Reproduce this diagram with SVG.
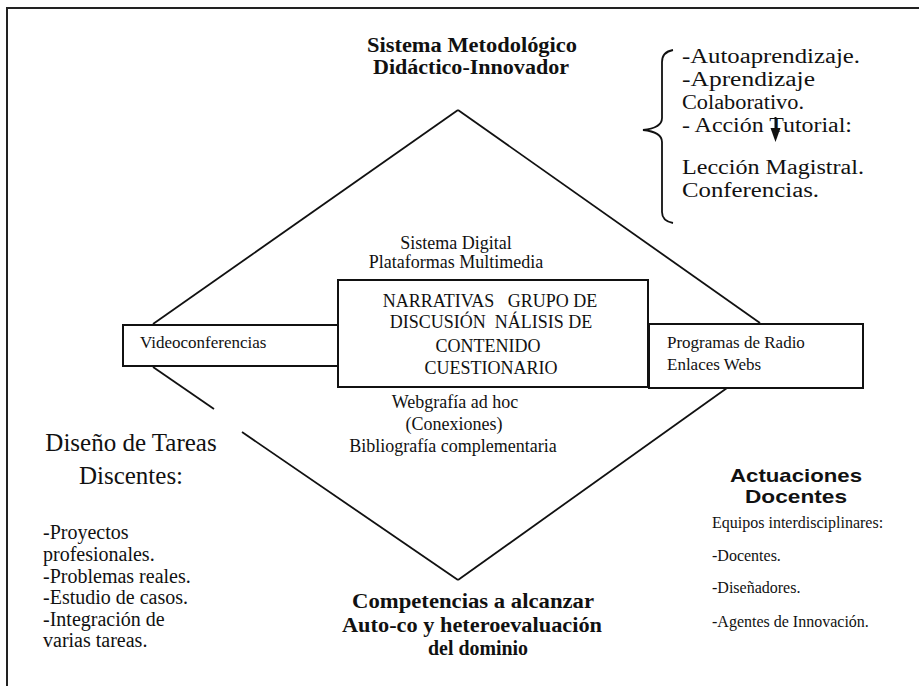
<svg xmlns="http://www.w3.org/2000/svg" width="919" height="686" viewBox="0 0 919 686">
<style>
.serif{font-family:"Liberation Serif","Times New Roman",serif;fill:#111}
.b{font-weight:bold}
.sans{font-family:"Liberation Sans",Arial,sans-serif;font-weight:bold;fill:#111}
.mid{text-anchor:middle}
.ln{stroke:#111;stroke-width:1.8;fill:none}
.box{stroke:#111;stroke-width:2;fill:#fff}
</style>
<rect x="0" y="0" width="919" height="686" fill="#fff"/>
<g id="frame">
<path d="M7,686 L7,8 L919,8" stroke="#222" stroke-width="2" fill="none"/>
</g>
<g id="connectors">
<line class="ln" x1="458" y1="110" x2="153" y2="324"/>
<line class="ln" x1="458" y1="110" x2="760" y2="323"/>
<line class="ln" x1="153" y1="367" x2="214" y2="409"/>
<line class="ln" x1="242" y1="432" x2="458" y2="580"/>
<line class="ln" x1="727" y1="388" x2="458" y2="580"/>
</g>
<g id="title-top">
<text class="serif b mid" x="472" y="52" font-size="20" textLength="210" lengthAdjust="spacingAndGlyphs">Sistema Metodológico</text>
<text class="serif b mid" x="471" y="74" font-size="20" textLength="196" lengthAdjust="spacingAndGlyphs">Didáctico-Innovador</text>
</g>
<g id="brace-list">
<path class="ln" d="M673,50 Q662,52 662,62 L662,118 Q662,128 643,130 Q662,132 662,142 L662,212 Q662,221 673,223"/>
<text class="serif" x="682" y="63" font-size="20" textLength="178" lengthAdjust="spacingAndGlyphs">-Autoaprendizaje.</text>
<text class="serif" x="682" y="86" font-size="20" textLength="133" lengthAdjust="spacingAndGlyphs">-Aprendizaje</text>
<text class="serif" x="682" y="109" font-size="20" textLength="122" lengthAdjust="spacingAndGlyphs">Colaborativo.</text>
<text class="serif" x="682" y="132" font-size="20" textLength="170" lengthAdjust="spacingAndGlyphs">- Acción Tutorial:</text>
<line x1="775.5" y1="117" x2="775.5" y2="129" stroke="#111" stroke-width="2"/>
<polygon points="770.5,128 780.5,128 775.5,142" fill="#111"/>
<text class="serif" x="682" y="174" font-size="20" textLength="182" lengthAdjust="spacingAndGlyphs">Lección Magistral.</text>
<text class="serif" x="682" y="197" font-size="20" textLength="137" lengthAdjust="spacingAndGlyphs">Conferencias.</text>
</g>
<g id="digital-label">
<text class="serif mid" x="456" y="249" font-size="18">Sistema Digital</text>
<text class="serif mid" x="456" y="268" font-size="18">Plataformas Multimedia</text>
</g>
<g id="left-box">
<rect class="box" x="123" y="325" width="215" height="41"/>
<text class="serif" x="140" y="348" font-size="17">Videoconferencias</text>
</g>
<g id="right-box">
<rect class="box" x="649" y="324" width="214" height="64"/>
<text class="serif" x="667" y="348" font-size="17">Programas de Radio</text>
<text class="serif" x="667" y="370" font-size="17">Enlaces Webs</text>
</g>
<g id="center-box">
<rect class="box" x="338" y="280" width="310" height="107"/>
<text class="serif mid" x="490" y="307" font-size="18" xml:space="preserve">NARRATIVAS   GRUPO DE</text>
<text class="serif mid" x="491" y="328" font-size="18" xml:space="preserve">DISCUSIÓN  NÁLISIS DE</text>
<text class="serif mid" x="488" y="352" font-size="18">CONTENIDO</text>
<text class="serif mid" x="491" y="374" font-size="18">CUESTIONARIO</text>
</g>
<g id="web-label">
<text class="serif mid" x="455" y="408" font-size="18">Webgrafía ad hoc</text>
<text class="serif mid" x="454" y="430" font-size="18">(Conexiones)</text>
<text class="serif mid" x="453" y="452" font-size="18">Bibliografía complementaria</text>
</g>
<g id="tareas">
<text class="serif mid" x="131" y="451" font-size="25">Diseño de Tareas</text>
<text class="serif mid" x="131" y="484" font-size="25">Discentes:</text>
<text class="serif" x="43" y="539" font-size="20">-Proyectos</text>
<text class="serif" x="43" y="561" font-size="20">profesionales.</text>
<text class="serif" x="43" y="583" font-size="20">-Problemas reales.</text>
<text class="serif" x="43" y="604" font-size="20">-Estudio de casos.</text>
<text class="serif" x="43" y="626" font-size="20">-Integración de</text>
<text class="serif" x="43" y="647" font-size="20">varias tareas.</text>
</g>
<g id="competencias">
<text class="serif b mid" x="473" y="608" font-size="20" textLength="242" lengthAdjust="spacingAndGlyphs">Competencias a alcanzar</text>
<text class="serif b mid" x="472" y="632" font-size="20" textLength="260" lengthAdjust="spacingAndGlyphs">Auto-co y heteroevaluación</text>
<text class="serif b mid" x="478" y="655" font-size="20" textLength="100" lengthAdjust="spacingAndGlyphs">del dominio</text>
</g>
<g id="actuaciones">
<text class="sans mid" x="796" y="482" font-size="19" textLength="132" lengthAdjust="spacingAndGlyphs">Actuaciones</text>
<text class="sans mid" x="796" y="503" font-size="19" textLength="102" lengthAdjust="spacingAndGlyphs">Docentes</text>
<text class="serif" x="712" y="528" font-size="16">Equipos interdisciplinares:</text>
<text class="serif" x="712" y="561" font-size="16">-Docentes.</text>
<text class="serif" x="712" y="593" font-size="16">-Diseñadores.</text>
<text class="serif" x="712" y="627" font-size="16">-Agentes de Innovación.</text>
</g>
</svg>
